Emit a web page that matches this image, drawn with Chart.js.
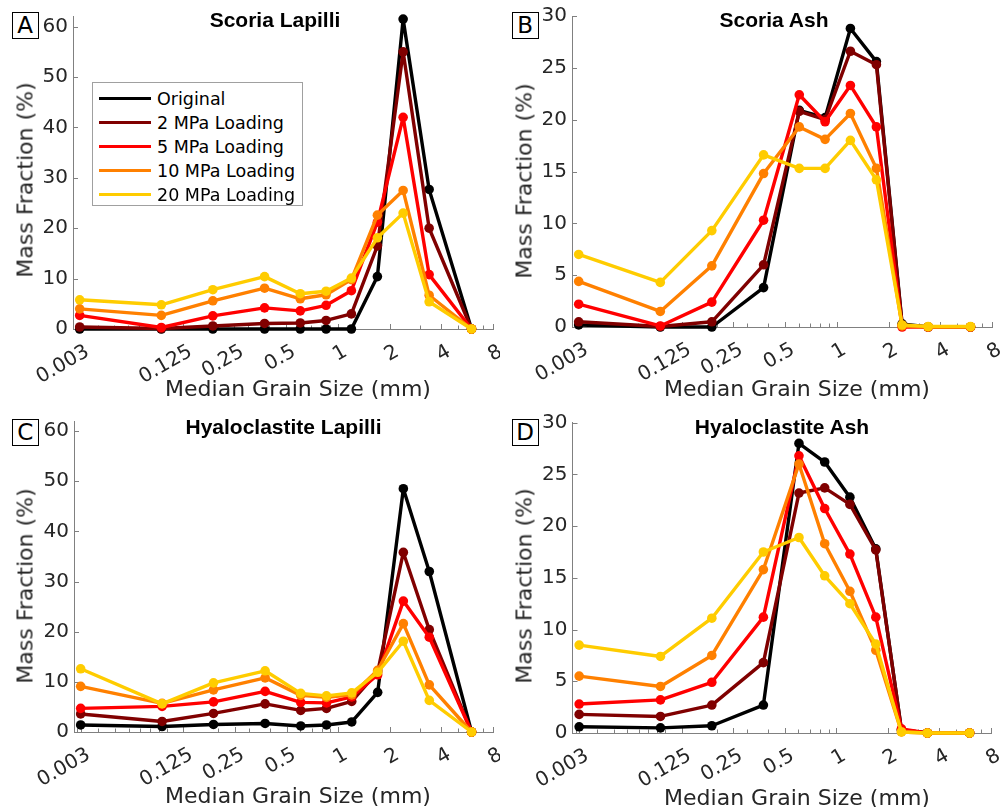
<!DOCTYPE html>
<html>
<head>
<meta charset="utf-8">
<script src="https://cdn.jsdelivr.net/npm/chart.js@4.4.0/dist/chart.umd.min.js"></script>
<style>
body{margin:0;background:#fff;width:1000px;height:807px;position:relative;overflow:hidden;font-family:"DejaVu Sans",sans-serif}
.panel{position:absolute}
.ttl{position:absolute;font:bold 21px "Liberation Sans",Arial,sans-serif;color:#000;transform:translate(-50%,-50%);white-space:nowrap}
.xlab,.ylab{position:absolute;font-size:22px;color:#262626;white-space:nowrap}
.xlab{transform:translate(-50%,-50%)}
.ylab{transform:translate(-50%,-50%) rotate(-90deg)}
.letter{position:absolute;box-sizing:border-box;width:27px;height:27px;border:1.5px solid #000;font-size:23px;line-height:24px;text-align:center;color:#000;background:#fff}
.legend{position:absolute;left:92px;top:82px;width:211px;height:124px;box-sizing:border-box;border:1px solid #a0a0a0;background:#fff}
.legend .row{position:absolute;left:0;height:24px;width:100%}
.legend .sw{position:absolute;left:6px;top:10px;width:52px;height:3.5px}
.legend .tx{position:absolute;left:64px;top:0;font-size:17.5px;line-height:24px;color:#000;white-space:nowrap}
</style>
</head>
<body>
<script>
/* DATA */
const sizes = [0.0315, 0.094, 0.1875, 0.375, 0.605, 0.855, 1.2, 1.7, 2.4, 3.4, 6];
const xTickVals = [0.0315, 0.125, 0.25, 0.5, 1, 2, 4, 8];
const xTickLabels = ['0.003', '0.125', '0.25', '0.5', '1', '2', '4', '8'];
const xMinorVals = [0.03,0.04,0.05,0.06,0.07,0.08,0.09,0.1,0.2,0.3,0.4,0.5,0.6,0.7,0.8,0.9,1,2,3,4,5,6,7,8];
const seriesNames = ['Original', '2 MPa Loading', '5 MPa Loading', '10 MPa Loading', '20 MPa Loading'];
const seriesColors = ['#000000', '#800000', '#ff0000', '#ff8000', '#ffcc00'];

// rows: Original, 2, 5, 10, 20 MPa
const scoriaLapilli = [
  [0, 0, 0, 0, 0, 0, 0, 10.4, 61.5, 27.7, 0],
  [0.4, 0.1, 0.6, 1.1, 1.2, 1.7, 3.0, 16.5, 55.0, 20.0, 0],
  [2.7, 0.3, 2.6, 4.2, 3.6, 4.7, 7.6, 21.2, 42.0, 10.8, 0],
  [4.0, 2.7, 5.6, 8.1, 6.0, 6.8, 9.8, 22.6, 27.5, 6.7, 0],
  [5.8, 4.8, 7.8, 10.4, 7.0, 7.5, 10.1, 18.1, 23.0, 5.4, 0]
];
const scoriaAsh = [
  [0.2, 0, 0, 3.8, 20.9, 20.2, 28.8, 25.6, 0.3, 0, 0],
  [0.5, 0.05, 0.5, 6.0, 20.8, 20.0, 26.6, 25.3, 0.2, 0, 0],
  [2.2, 0.1, 2.4, 10.3, 22.4, 19.8, 23.3, 19.3, 0, 0, 0],
  [4.4, 1.5, 5.9, 14.8, 19.3, 18.1, 20.6, 15.3, 0.1, 0, 0],
  [7.0, 4.3, 9.3, 16.6, 15.3, 15.3, 18.0, 14.2, 0.2, 0.05, 0.05]
];
const hyaloLapilli = [
  [1.4, 1.1, 1.5, 1.7, 1.2, 1.4, 2.0, 7.9, 48.5, 32.0, 0],
  [3.6, 2.1, 3.7, 5.6, 4.3, 4.7, 6.1, 12.0, 35.8, 20.4, 0],
  [4.7, 5.1, 6.0, 8.1, 5.9, 5.8, 7.0, 11.4, 26.1, 18.9, 0],
  [9.1, 5.7, 8.4, 10.8, 7.3, 6.9, 7.4, 12.3, 21.6, 9.4, 0],
  [12.6, 5.6, 9.8, 12.2, 7.7, 7.2, 7.8, 11.9, 18.1, 6.3, 0]
];
const hyaloAsh = [
  [0.6, 0.5, 0.7, 2.7, 28.0, 26.2, 22.8, 17.8, 0.3, 0, 0],
  [1.8, 1.6, 2.7, 6.8, 23.2, 23.7, 22.1, 17.7, 0.3, 0, 0],
  [2.8, 3.2, 4.9, 11.2, 26.8, 21.7, 17.3, 11.2, 0.4, 0, 0],
  [5.5, 4.5, 7.5, 15.8, 26.0, 18.3, 13.7, 8.0, 0.1, 0, 0],
  [8.5, 7.4, 11.1, 17.5, 18.9, 15.2, 12.5, 8.6, 0.1, 0, 0]
];
const lapilliYTicks = [0, 10, 20, 30, 40, 50, 60];
const ashYTicks = [0, 5, 10, 15, 20, 25, 30];

/* PANEL LAYOUT */
const panels = [
  {id:'A', title:'Scoria Lapilli', rows:scoriaLapilli, ymax:62, yt:lapilliYTicks, x:0, y:0, w:500, h:400,
   area:{l:73, r:493, t:16.6, b:329}, ttl:[275,20], xl:[298,388], yl:[25,180], box:[11.7,11.7], legend:true},
  {id:'B', title:'Scoria Ash', rows:scoriaAsh, ymax:30, yt:ashYTicks, x:500, y:0, w:500, h:400,
   area:{l:72, r:492, t:16, b:327}, ttl:[774,20], xl:[797,388], yl:[524,181], box:[511.7,11.7]},
  {id:'C', title:'Hyaloclastite Lapilli', rows:hyaloLapilli, ymax:62, yt:lapilliYTicks, x:0, y:400, w:500, h:407,
   area:{l:74, r:493, t:21, b:332}, ttl:[283.5,427], xl:[298,795], yl:[25,586], box:[11.7,419]},
  {id:'D', title:'Hyaloclastite Ash', rows:hyaloAsh, ymax:30, yt:ashYTicks, x:500, y:400, w:500, h:407,
   area:{l:72.5, r:491, t:22.7, b:333}, ttl:[782,427], xl:[797,797], yl:[523.5,586], box:[511.7,418.5]}
];

const axisColor = '#808080';
const textColor = '#262626';
const FONT = '"DejaVu Sans", Verdana, sans-serif';

/* inward tick marks, MATLAB style */
const innerTicks = {
  id:'innerTicks',
  beforeDatasetsDraw(chart){
    const {ctx, scales:{x, y}} = chart;
    ctx.save();
    ctx.strokeStyle = axisColor;
    ctx.lineWidth = 1;
    ctx.beginPath();
    xMinorVals.forEach(v=>{
      if(v < x.min || v > x.max) return;
      const px = Math.round(x.getPixelForValue(v)) + .5;
      ctx.moveTo(px, y.bottom); ctx.lineTo(px, y.bottom - 3.5);
    });
    xTickVals.forEach(v=>{
      const px = Math.round(x.getPixelForValue(v)) + .5;
      ctx.moveTo(px, y.bottom); ctx.lineTo(px, y.bottom - 5);
    });
    y.ticks.forEach(t=>{
      const py = Math.round(y.getPixelForValue(t.value)) + .5;
      ctx.moveTo(x.left, py); ctx.lineTo(x.left + 5, py);
    });
    ctx.stroke();
    ctx.restore();
  }
};

function addDiv(cls, txt, x, y){
  const d = document.createElement('div');
  d.className = cls;
  d.textContent = txt;
  d.style.left = x + 'px';
  d.style.top = y + 'px';
  document.body.appendChild(d);
  return d;
}

panels.forEach(p=>{
  const wrap = document.createElement('div');
  wrap.className = 'panel';
  wrap.style.left = p.x + 'px'; wrap.style.top = p.y + 'px';
  wrap.style.width = p.w + 'px'; wrap.style.height = p.h + 'px';
  const cv = document.createElement('canvas');
  cv.width = p.w; cv.height = p.h;
  wrap.appendChild(cv);
  document.body.appendChild(wrap);

  const datasets = p.rows.map((vals, i)=>({
    label: seriesNames[i],
    data: vals.map((v, j)=>({x: sizes[j], y: v})),
    borderColor: seriesColors[i],
    backgroundColor: seriesColors[i],
    borderWidth: 3.4,
    borderJoinStyle: 'round',
    pointRadius: 4.8,
    pointBorderWidth: 0,
    pointBackgroundColor: seriesColors[i],
    tension: 0,
    clip: false,
    order: 5 - i
  }));

  new Chart(cv, {
    type: 'line',
    data: {datasets},
    plugins: [innerTicks],
    options: {
      responsive: false,
      animation: false,
      devicePixelRatio: 1,
      events: [],
      layout: {padding: {left: 0, top: p.area.t, right: p.w - p.area.r, bottom: 0}},
      plugins: {legend: {display: false}, tooltip: {enabled: false}},
      scales: {
        x: {
          type: 'logarithmic',
          min: 0.0288, max: 8,
          grid: {display: false, drawTicks: false},
          border: {display: true, color: axisColor, width: 1},
          afterBuildTicks: s=>{ s.ticks = xTickVals.map(v=>({value: v})); },
          afterFit: s=>{ s.height = p.h - p.area.b; s.paddingLeft = 0; s.paddingRight = 0; },
          ticks: {
            autoSkip: false, maxRotation: 30, minRotation: 30,
            padding: 11, labelOffset: 8,
            color: textColor, font: {family: FONT, size: 20},
            callback: (v, i)=> xTickLabels[i]
          }
        },
        y: {
          min: 0, max: p.ymax,
          grid: {display: false, drawTicks: false},
          border: {display: true, color: axisColor, width: 1},
          afterBuildTicks: s=>{ s.ticks = p.yt.map(v=>({value: v})); },
          afterFit: s=>{ s.width = p.area.l; s.paddingTop = 0; s.paddingBottom = 0; },
          ticks: {padding: 5, color: textColor, font: {family: FONT, size: 20}, callback: v=> String(v)}
        }
      }
    }
  });

  addDiv('ttl', p.title, p.ttl[0], p.ttl[1]);
  addDiv('xlab', 'Median Grain Size (mm)', p.xl[0], p.xl[1]);
  addDiv('ylab', 'Mass Fraction (%)', p.yl[0], p.yl[1]);
  addDiv('letter', p.id, p.box[0], p.box[1]);

  if(p.legend){
    const lg = document.createElement('div');
    lg.className = 'legend';
    seriesNames.forEach((n, i)=>{
      const r = document.createElement('div');
      r.className = 'row';
      r.style.top = (3.7 + i * 24) + 'px';
      const sw = document.createElement('div');
      sw.className = 'sw'; sw.style.background = seriesColors[i];
      const tx = document.createElement('div');
      tx.className = 'tx'; tx.textContent = n;
      r.appendChild(sw); r.appendChild(tx);
      lg.appendChild(r);
    });
    document.body.appendChild(lg);
  }
});
</script>
</body>
</html>
